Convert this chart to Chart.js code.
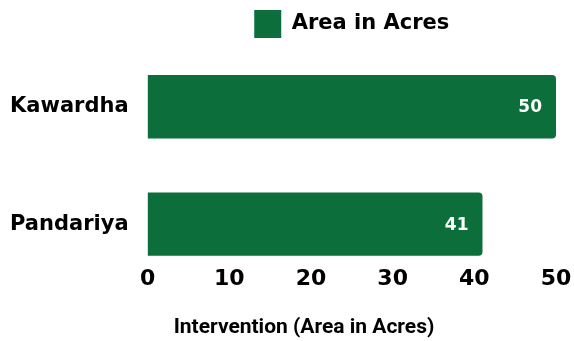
<!DOCTYPE html>
<html>
<head>
<meta charset="utf-8">
<script src="https://cdn.jsdelivr.net/npm/chart.js@4.4.0/dist/chart.umd.min.js"></script>
<style>
  html, body { margin: 0; padding: 0; background: #fff; }
  #wrap { width: 574px; height: 341px; }
</style>
</head>
<body>
<div id="wrap"><canvas id="areaChart"></canvas></div>
<script>
// datos
const categorias = ['Kawardha', 'Pandariya'];
const areaAcres = [50, 41];
const ticksX = [0, 10, 20, 30, 40, 50];
const serieNombre = 'Area in Acres';
const tituloEje = 'Intervention (Area in Acres)';

const verde = '#0b6e3b';
const fuente = "'DejaVu Sans', sans-serif";

// etiquetas de valor dentro de la barra
const etiquetasValor = {
    id: 'etiquetasValor',
    afterDatasetsDraw(chart) {
        const ctx = chart.ctx;
        const meta = chart.getDatasetMeta(0);
        ctx.save();
        ctx.fillStyle = '#ffffff';
        ctx.font = 'bold 17px ' + fuente;
        ctx.textAlign = 'right';
        ctx.textBaseline = 'middle';
        meta.data.forEach((bar, i) => {
            ctx.fillText(String(chart.data.datasets[0].data[i]), bar.x - 14, bar.y + 1);
        });
        ctx.restore();
    }
};

Chart.defaults.font.family = fuente;
Chart.defaults.color = '#000';

new Chart(document.getElementById('areaChart'), {
    type: 'bar',
    data: {
        labels: categorias,
        datasets: [{
            label: serieNombre,
            data: areaAcres,
            backgroundColor: verde,
            borderWidth: 0,
            borderRadius: 4,
            categoryPercentage: 0.9,
            barPercentage: 0.6
        }]
    },
    options: {
        indexAxis: 'y',
        responsive: true,
        maintainAspectRatio: false,
        animation: false,
        layout: { padding: { left: -9, right: 18, top: 0, bottom: 0 } },
        plugins: {
            legend: {
                position: 'top',
                fullSize: false,
                labels: {
                    boxWidth: 27,
                    boxHeight: 28,
                    padding: 10,
                    font: { size: 21, weight: 'bold' },
                    color: '#000'
                }
            },
            tooltip: { enabled: false }
        },
        scales: {
            x: {
                min: ticksX[0],
                max: ticksX[ticksX.length - 1],
                afterBuildTicks: (axis) => {
                    axis.ticks = ticksX.map(v => ({ value: v }));
                },
                ticks: {
                    mirror: true,
                    padding: -10,
                    font: { size: 22, weight: 'bold' },
                    color: '#000'
                },
                grid: { display: false, drawTicks: false },
                border: { display: false },
                title: {
                    display: true,
                    align: 'start',
                    text: '     ' + tituloEje,
                    font: { family: 'Roboto', size: 21, weight: 'bold' },
                    color: '#000',
                    padding: { top: 52, bottom: 1 }
                }
            },
            y: {
                ticks: {
                    padding: 19,
                    font: { size: 21, weight: 'bold' },
                    color: '#000'
                },
                grid: { display: false, drawTicks: false },
                border: { display: false }
            }
        }
    },
    plugins: [etiquetasValor]
});
</script>
</body>
</html>
